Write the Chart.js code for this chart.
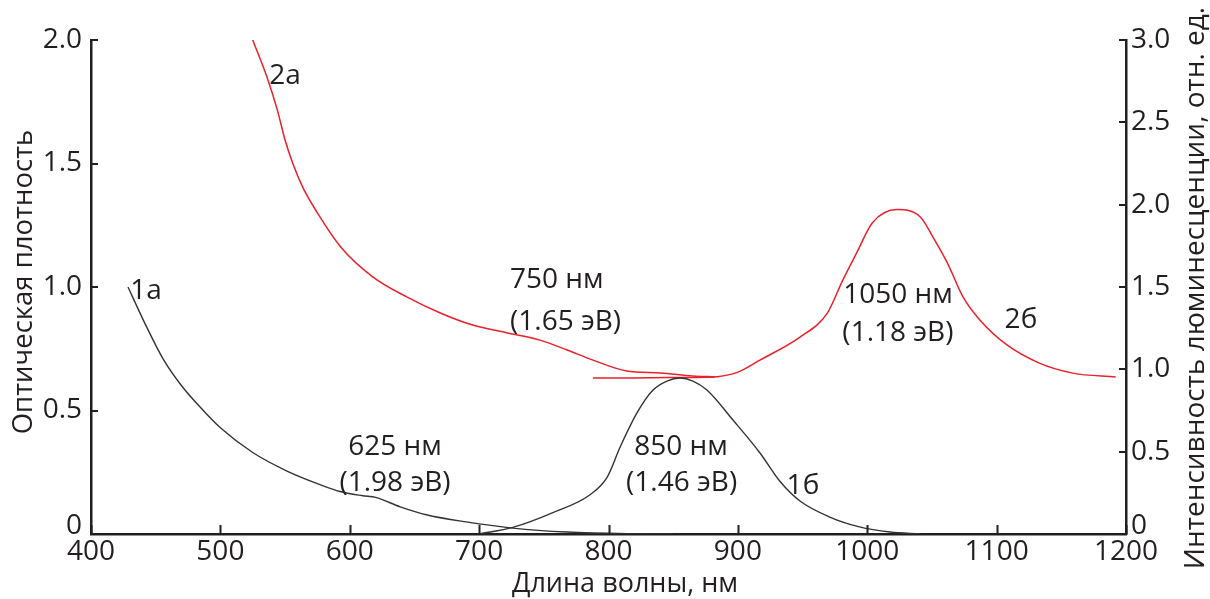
<!DOCTYPE html>
<html>
<head>
<meta charset="utf-8">
<script src="https://cdn.jsdelivr.net/npm/chart.js@4.4.1/dist/chart.umd.min.js"></script>
<style>
  html, body { margin: 0; padding: 0; background: #ffffff; }
  #wrap { width: 1210px; height: 599px; position: relative; }
</style>
</head>
<body>
<div id="wrap"><canvas id="c"></canvas></div>
<script>
// Absorption spectra (optical density, left axis)
const wl1a = [428.6, 441, 455.6, 470, 485, 500, 525, 551.5, 577, 592.5, 610, 620, 639, 660, 690, 726, 768, 820, 850];
const od1a = [1.0, 0.86, 0.71, 0.60, 0.51, 0.43, 0.33, 0.255, 0.20, 0.172, 0.155, 0.148, 0.11, 0.077, 0.049, 0.024, 0.008, 0.001, 0];

const wl2a = [525, 536, 544, 550, 556, 564, 575, 593, 618, 644, 670, 695, 722, 747, 768, 788, 814, 840, 865, 882];
const od2a = [2.0, 1.85, 1.717, 1.595, 1.50, 1.40, 1.30, 1.162, 1.04, 0.96, 0.895, 0.846, 0.814, 0.785, 0.745, 0.704, 0.66, 0.652, 0.64, 0.636];

// Luminescence spectra (relative intensity, right axis)
const wl1b = [700, 726, 757, 786, 799, 809, 822, 834.4, 845.2, 855.3, 865.3, 876.1, 896.2, 917.1, 932.5, 948, 971, 994, 1017.6, 1041];
const lum1b = [0, 0.04, 0.13, 0.24, 0.346, 0.528, 0.735, 0.874, 0.929, 0.947, 0.929, 0.874, 0.692, 0.492, 0.32, 0.20, 0.103, 0.043, 0.012, 0];

const wl2b = [788, 820, 850, 875, 884, 899, 917, 948, 969, 981, 992, 1004, 1023, 1041, 1051, 1062, 1074, 1087, 1108, 1133, 1159, 1192];
const lum2b = [0.947, 0.948, 0.950, 0.952, 0.955, 0.98, 1.056, 1.196, 1.34, 1.54, 1.71, 1.89, 1.97, 1.925, 1.80, 1.645, 1.44, 1.30, 1.148, 1.038, 0.977, 0.953];

// Axis ticks
const xTicks = [400, 500, 600, 700, 800, 900, 1000, 1100, 1200];
const odTicks = [0, 0.5, 1.0, 1.5, 2.0];
const lumTicks = [0, 0.5, 1.0, 1.5, 2.0, 2.5, 3.0];

// Curve labels and peak positions (x in nm, y in optical density units)
const notes = [
  { text: '2а', x: 550, y: 1.862, align: 'center' },
  { text: '1а', x: 442.5, y: 0.992, align: 'center' },
  { text: '750 нм', x: 723.9, y: 1.036, align: 'left' },
  { text: '(1.65 эВ)', x: 723.9, y: 0.866, align: 'left' },
  { text: '625 нм', x: 635, y: 0.360, align: 'center' },
  { text: '(1.98 эВ)', x: 635, y: 0.215, align: 'center' },
  { text: '850 нм', x: 856, y: 0.360, align: 'center' },
  { text: '(1.46 эВ)', x: 856.5, y: 0.215, align: 'center' },
  { text: '1б', x: 950.3, y: 0.202, align: 'center' },
  { text: '1050 нм', x: 1023.7, y: 0.976, align: 'center' },
  { text: '(1.18 эВ)', x: 1023.7, y: 0.822, align: 'center' },
  { text: '2б', x: 1118.8, y: 0.874, align: 'center' }
];

const FONT = '"Open Sans", "Noto Sans", sans-serif';
const INK = '#231f20';
const BLACK_LINE = '#333333';
const RED_LINE = '#e8212a';

const pts = (xs, ys) => xs.map((x, i) => ({ x: x, y: ys[i] }));

const tickLabel = v => (v === 0 ? ['0', ''] : v.toFixed(1));
const tickFont = c => (c.tick && c.tick.value === 0)
  ? { family: FONT, size: 28, lineHeight: 0.55 }
  : { family: FONT, size: 28 };

// Short tick marks pointing into the plot area
const inwardTicks = {
  id: 'inwardTicks',
  afterDatasetsDraw(chart) {
    const { ctx, chartArea: a, scales } = chart;
    ctx.save();
    ctx.strokeStyle = INK;
    ctx.lineWidth = 2;
    ctx.beginPath();
    scales.x.ticks.forEach(t => {
      const px = Math.round(scales.x.getPixelForValue(t.value)) + 0.5;
      ctx.moveTo(px, a.bottom); ctx.lineTo(px, a.bottom - 9);
    });
    scales.y.ticks.forEach(t => {
      const py = Math.round(scales.y.getPixelForValue(t.value));
      ctx.moveTo(a.left, py); ctx.lineTo(a.left + 7, py);
    });
    scales.y2.ticks.forEach(t => {
      const py = Math.round(scales.y2.getPixelForValue(t.value));
      ctx.moveTo(a.right, py); ctx.lineTo(a.right - 7, py);
    });
    ctx.stroke();
    ctx.restore();
  }
};

// Vertical text with its cap-height centred on (cx, cy)
function drawVertical(ctx, text, cx, cy, size) {
  ctx.save();
  ctx.font = size + 'px ' + FONT;
  ctx.textAlign = 'center';
  ctx.translate(cx, cy);
  ctx.rotate(-Math.PI / 2);
  ctx.fillText(text, 0, size * 0.357);
  ctx.restore();
}

// Curve labels, peak annotations and axis titles
const textLayer = {
  id: 'textLayer',
  afterDraw(chart) {
    const { ctx, scales } = chart;
    const size = 28;
    const cap = size * 0.357;
    ctx.save();
    ctx.fillStyle = INK;
    ctx.font = size + 'px ' + FONT;
    ctx.textBaseline = 'alphabetic';
    notes.forEach(n => {
      ctx.textAlign = n.align;
      ctx.fillText(n.text, scales.x.getPixelForValue(n.x), scales.y.getPixelForValue(n.y) + cap);
    });

    ctx.font = '27px ' + FONT;
    ctx.textAlign = 'center';
    ctx.fillText('Длина волны, нм', 625, 592);
    drawVertical(ctx, 'Оптическая плотность', 22.5, 282, 27.5);
    drawVertical(ctx, 'Интенсивность люминесценции, отн. ед.', 1194, 288, 28);
    ctx.restore();
  }
};

new Chart(document.getElementById('c'), {
  type: 'line',
  data: {
    datasets: [
      { label: '1а', data: pts(wl1a, od1a), yAxisID: 'y', borderColor: BLACK_LINE, borderWidth: 1.4 },
      { label: '1б', data: pts(wl1b, lum1b), yAxisID: 'y2', borderColor: BLACK_LINE, borderWidth: 1.4 },
      { label: '2а', data: pts(wl2a, od2a), yAxisID: 'y', borderColor: RED_LINE, borderWidth: 1.5 },
      { label: '2б', data: pts(wl2b, lum2b), yAxisID: 'y2', borderColor: RED_LINE, borderWidth: 1.5 }
    ]
  },
  options: {
    responsive: true,
    maintainAspectRatio: false,
    animation: false,
    events: [],
    elements: {
      point: { radius: 0 },
      line: { cubicInterpolationMode: 'monotone', fill: false }
    },
    layout: { padding: { top: 40, left: 0, right: 0, bottom: 0 } },
    plugins: { legend: { display: false }, tooltip: { enabled: false } },
    scales: {
      x: {
        type: 'linear',
        min: 400, max: 1200,
        afterBuildTicks: s => { s.ticks = xTicks.map(v => ({ value: v })); },
        afterFit: s => { s.height = 65; },
        grid: { drawOnChartArea: false, drawTicks: false },
        border: { display: true, color: INK, width: 2.5 },
        ticks: { color: INK, font: { family: FONT, size: 28 }, padding: 1, maxRotation: 0, autoSkip: false,
                 callback: v => String(v) }
      },
      y: {
        type: 'linear',
        position: 'left',
        min: 0, max: 2,
        afterBuildTicks: s => { s.ticks = odTicks.map(v => ({ value: v })); },
        afterFit: s => { s.width = 91; },
        grid: { drawOnChartArea: false, drawTicks: false },
        border: { display: true, color: INK, width: 2.5 },
        ticks: { color: INK, font: tickFont, padding: 9, callback: tickLabel }
      },
      y2: {
        type: 'linear',
        position: 'right',
        min: 0, max: 3,
        afterBuildTicks: s => { s.ticks = lumTicks.map(v => ({ value: v })); },
        afterFit: s => { s.width = 84; },
        grid: { drawOnChartArea: false, drawTicks: false },
        border: { display: true, color: INK, width: 2.5 },
        ticks: { color: INK, font: tickFont, padding: 5, callback: tickLabel }
      }
    }
  },
  plugins: [inwardTicks, textLayer]
});
</script>
</body>
</html>
